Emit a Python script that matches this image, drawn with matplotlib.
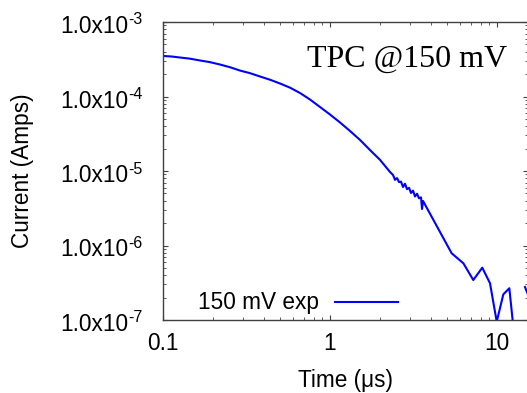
import numpy as np
from matplotlib import pyplot as plt

# time (us) and current (A)
time_us = [0.100, 0.113, 0.126, 0.145, 0.167, 0.190, 0.219, 0.252, 0.289,
           0.331, 0.381, 0.437, 0.502, 0.578, 0.661, 0.759, 0.871,
           1.000, 1.148, 1.318, 1.513, 1.736, 1.993, 2.288,
           2.384, 2.450, 2.518, 2.589, 2.661, 2.736, 2.812, 2.891, 2.972,
           3.055, 3.141, 3.228, 3.319, 3.412, 3.507, 3.556, 3.606,
           5.35, 6.29, 7.21, 8.16, 9.08, 9.96, 10.91, 11.85, 12.53,
           np.nan, 14.71, 15.8]
current_A = [3.50e-4, 3.44e-4, 3.34e-4, 3.22e-4, 3.04e-4, 2.90e-4, 2.69e-4,
             2.47e-4, 2.23e-4, 2.06e-4, 1.855e-4, 1.68e-4, 1.494e-4,
             1.31e-4, 1.114e-4, 9.11e-5, 7.23e-5,
             5.73e-5, 4.48e-5, 3.44e-5, 2.61e-5, 1.91e-5, 1.41e-5, 9.69e-6,
             8.84e-6, 7.60e-6, 8.05e-6, 7.10e-6, 7.20e-6, 6.10e-6, 6.75e-6,
             5.70e-6, 5.95e-6, 5.07e-6, 5.45e-6, 4.55e-6, 4.95e-6, 4.30e-6,
             4.42e-6, 3.09e-6, 3.96e-6,
             7.86e-7, 5.77e-7, 3.44e-7, 5.04e-7, 3.11e-7, 9.5e-8, 2.21e-7,
             2.67e-7, 8.0e-8, np.nan, 2.77e-7, 1.85e-7]

y_ticks = [1e-7, 1e-6, 1e-5, 1e-4, 1e-3]
y_mant = ['1.0x10'] * 5
y_exp = ['-7', '-6', '-5', '-4', '-3']
x_ticks = [0.1, 1, 10]
x_labels = ['0.1', '1', '10']

plt.rcParams['font.family'] = ['Liberation Sans', 'DejaVu Sans']
plt.rcParams['font.size'] = 16.3

fig = plt.figure(figsize=(5.27, 3.93), dpi=100)
ax = fig.add_axes([163/527, 73/393, 365/527, 298/393])

ax.plot(time_us, current_A, color='#0000ff', lw=1.5, label='150 mV exp')

ax.set_xscale('log')
ax.set_yscale('log')
ax.set_xlim(0.1, 15.33)
ax.set_ylim(1e-7, 1e-3)
ax.set_xticks(x_ticks, x_labels)
ax.set_yticks(y_ticks)
ax.tick_params(labelleft=False)

ax.tick_params(which='both', direction='in', top=True, right=True, color='#404040')
ax.tick_params(which='major', length=3.5, width=0.8)
ax.tick_params(which='minor', length=2, width=0.6)
ax.tick_params(axis='x', which='major', pad=9)
for s in ax.spines.values():
    s.set_color('#404040')
    s.set_linewidth(1)

# gnuplot style "1.0x10^{-n}" labels
for v, m, e in zip(y_ticks, y_mant, y_exp):
    ax.annotate(m, xy=(0, v), xycoords=('axes fraction', 'data'),
                xytext=(-34.7, -11), textcoords='offset pixels',
                ha='right', va='baseline', annotation_clip=False)
    ax.annotate(e, xy=(0, v), xycoords=('axes fraction', 'data'),
                xytext=(-34.5, -2.5), textcoords='offset pixels',
                ha='left', va='baseline', fontsize=11.5, annotation_clip=False)

ax.set_xlabel('Time (μs)', labelpad=10)
ax.set_ylabel('Current (Amps)')
ax.yaxis.set_label_coords(-129/365, 0.5)

ax.text(507/527, 1 - 67/393, 'TPC @150 mV', transform=fig.transFigure,
        ha='right', va='baseline', fontsize=23, family='Liberation Serif')

ax.legend(loc='center right', bbox_to_anchor=(398/527, 1 - 303/393),
          bbox_transform=fig.transFigure, frameon=False, markerfirst=False,
          handlelength=2.8, handletextpad=0.7, borderpad=0, borderaxespad=0)

plt.savefig('out.png', dpi=100)
